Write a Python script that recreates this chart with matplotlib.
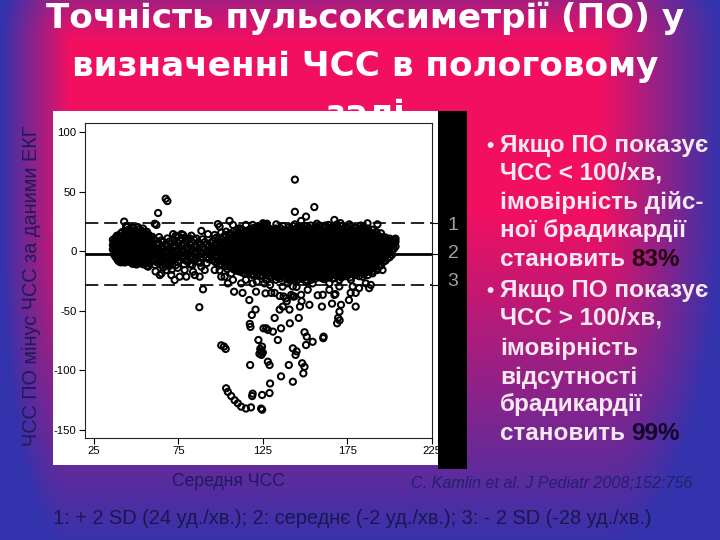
import numpy as np
import matplotlib
matplotlib.use('Agg')
import matplotlib.pyplot as plt
from matplotlib import font_manager
from matplotlib.patches import Rectangle

plt.rcParams['axes.unicode_minus'] = False

# Bland-Altman plot: mean HR (x) vs. pulse-ox HR minus ECG HR (y)
# dense band, kept column by column: x of a column and the y values in it
left_cols = [36.2, 37.8, 39.3, 40.9, 42.4, 44.0, 45.6, 47.1, 48.7, 50.2, 51.8, 53.3,
             54.9, 56.4, 58.0, 59.5]
left_rows = [
    [9.5, 5.2, 1.4],
    [11.3, 7.0, 2.8, -1.5, -4.8],
    [12.6, 8.1, 4.3, 0.2, -3.6, -7.9],
    [14.8, 10.2, 5.7, 1.6, -2.4, -6.1, -9.4],
    [11.7, 7.4, 3.1, -0.8, -4.9, -8.3],
    [16.3, 12.4, 8.6, 4.2, 0.5, -3.8, -7.2],
    [18.1, 13.5, 9.3, 5.4, 1.2, -2.9, -6.4],
    [17.2, 14.1, 10.4, 6.2, 2.3, -1.7, -5.5, -9.6],
    [19.3, 15.2, 11.1, 6.9, 3.0, -1.2, -4.1, -8.4],
    [16.6, 12.2, 8.3, 4.4, 0.3, -3.4, -7.3, -11.2],
    [18.4, 14.6, 10.3, 6.1, 2.1, -2.2, -6.3, -10.1],
    [17.1, 12.9, 9.2, 5.1, 1.3, -3.1, -8.2],
    [15.4, 11.3, 7.2, 3.3, -0.9, -5.2, -9.1],
    [16.2, 12.1, 8.0, 4.1, 0.1, -4.4, -7.6, -12.3],
    [10.4, 6.3, 2.2, -2.0, -6.2, -10.2],
    [12.1, 7.8, 3.9, -0.4, -3.3, -8.1],
]
left_cols_b = [37.0, 38.6, 40.1, 41.7, 43.2, 44.8, 46.3, 47.9, 49.4, 51.0, 52.5, 54.1,
               55.6, 57.2, 58.7]
left_rows_b = [
    [8.0, 4.0, 0.0, -3.0],
    [13.0, 9.2, 5.1, 1.0, -2.9, -6.2],
    [10.4, 6.4, 2.5, -1.6, -5.5, -8.8],
    [16.0, 12.8, 8.9, 4.7, 0.6, -3.5, -7.5],
    [14.2, 10.1, 6.0, 2.0, -2.1, -6.0, -9.5],
    [20.5, 15.1, 11.1, 7.0, 2.9, -1.1, -5.2, -8.7],
    [16.0, 12.0, 7.9, 3.8, -0.2, -4.3, -8.1],
    [20.0, 16.1, 12.6, 8.6, 4.6, 0.6, -3.2, -7.0, -10.6],
    [17.5, 13.4, 9.6, 5.6, 1.7, -2.4, -6.0, -10.0],
    [20.2, 14.4, 10.2, 6.3, 2.3, -1.4, -5.3, -9.1],
    [16.0, 11.9, 7.8, 3.7, -0.5, -4.6, -9.7],
    [19.0, 13.6, 9.4, 5.4, 1.2, -2.9, -7.1, -11.0],
    [13.9, 9.8, 5.9, 2.0, -2.2, -6.0, -10.5],
    [14.0, 10.0, 6.0, 1.9, -2.1, -5.8, -9.0],
    [11.0, 7.0, 3.0, -1.0, -5.0],
]
mid_cols = [61.2, 63.6, 66.1, 68.5, 71.0, 73.4, 75.9, 78.3, 80.8, 83.2, 85.7, 88.1,
            90.6, 93.0, 95.5, 97.9, 100.4, 102.8]
mid_rows = [
    [9.1, 2.8, -2.2, -7.1, -11.6],
    [11.8, 6.2, 0.9, -4.1, -9.3],
    [7.9, 2.1, -3.4, -8.2, -13.7],
    [10.7, 4.8, -0.3, -5.2, -10.4],
    [6.8, 1.1, -4.3, -9.0, -15.6],
    [12.9, 4.2, -1.1, -6.3, -11.8],
    [8.7, 2.9, -2.4, -7.7],
    [6.1, 0.4, -5.1, -10.9],
    [9.8, 2.3, -3.2, -8.6],
    [7.2, 1.2, -4.4, -11.5],
    [10.6, 4.1, -1.3, -6.2],
    [5.3, -0.2, -5.4, -9.7],
    [7.6, 1.9, -3.1],
    [4.4, -1.2, -6.8],
    [8.8, 3.2, -2.1, -7.6],
    [11.6, 5.1, 0.3, -4.8, -9.9],
    [9.7, 5.8, 1.7, -2.3, -6.1, -10.8],
    [13.6, 8.2, 4.1, 0.2, -3.9, -8.3, -12.7],
]
mid_cols_b = [62.4, 64.8, 67.3, 69.7, 72.2, 74.6, 77.1, 79.5, 82.0, 84.4, 86.9, 89.3,
              91.8, 94.2, 96.7, 99.1, 101.6, 104.0]
mid_rows_b = [
    [6.0, 0.5, -5.0, -9.5],
    [9.0, 3.5, -1.5, -6.5, -11.5],
    [5.5, 0.0, -5.5, -11.0],
    [8.0, 2.5, -2.5, -7.5, -12.5],
    [9.5, 3.5, -2.0, -7.0],
    [6.5, 1.0, -4.0, -9.0, -14.0],
    [11.0, 5.5, 0.0, -5.0],
    [8.5, 3.0, -2.5, -8.0],
    [5.0, -0.5, -6.0, -11.0],
    [9.5, 3.5, -2.0, -8.0],
    [7.5, 2.0, -3.5, -9.0],
    [10.0, 3.0, -2.0],
    [5.5, 0.0, -5.0, -10.0],
    [7.0, 1.5, -3.5],
    [10.5, 6.0, 0.5, -4.5, -9.0],
    [8.0, 3.0, -1.5, -7.0, -12.0],
    [12.0, 7.5, 3.5, -0.5, -4.5, -8.5],
    [10.0, 6.0, 2.0, -2.0, -6.0, -10.5, -15.0],
]
core_cols = [105.3, 107.9, 110.5, 113.1, 115.7, 118.3, 120.9, 123.5, 126.1, 128.7,
             131.3, 133.9, 136.5, 139.1, 141.7, 144.3, 146.9, 149.5, 152.1, 154.7,
             157.3, 159.9, 162.5, 165.1, 167.7, 170.3, 172.9, 175.5, 178.1, 180.7,
             183.3, 185.9, 188.5, 191.1, 193.7, 196.3, 198.9, 201.5, 203.6]
core_rows = [
    [-13.2, -9.1, -5.3, -1.2, 2.7, 6.9, 10.8, 14.6],
    [-15.4, -11.3, -7.2, -3.1, 0.8, 4.9, 8.7, 12.9, 16.8],
    [-16.8, -12.6, -8.4, -4.6, -0.7, 3.4, 7.6, 11.4, 15.7],
    [-18.1, -14.2, -10.1, -6.0, -2.2, 1.9, 5.8, 9.9, 13.8, 17.6],
    [-16.3, -12.0, -7.9, -3.8, 0.1, 4.2, 8.1, 12.2, 16.1],
    [-19.2, -15.1, -11.2, -7.0, -3.1, 1.0, 5.1, 9.0, 13.1, 17.2],
    [-17.4, -13.1, -9.2, -5.1, -1.0, 3.1, 7.0, 11.1, 15.0, 18.9],
    [-20.1, -16.0, -12.1, -8.1, -4.0, 0.2, 4.1, 8.0, 12.1, 16.2, 20.1],
    [-18.2, -14.1, -10.0, -6.1, -2.0, 1.9, 6.0, 10.1, 14.0, 18.1, 22.0],
    [-21.0, -16.9, -13.0, -8.9, -5.0, -1.1, 3.0, 7.1, 11.0, 14.9, 19.0],
    [-19.1, -15.0, -11.1, -7.0, -2.9, 1.1, 5.0, 8.9, 13.1, 17.0],
    [-22.0, -18.0, -13.9, -10.0, -5.9, -2.0, 2.1, 6.0, 9.9, 14.1, 17.9],
    [-20.2, -16.1, -12.0, -7.9, -4.1, 0.0, 4.0, 8.1, 12.0, 15.9],
    [-22.9, -18.8, -14.9, -11.0, -7.1, -3.0, 1.0, 5.1, 9.0, 12.9, 17.1],
    [-21.1, -17.0, -13.0, -9.1, -5.0, -1.0, 3.0, 6.9, 11.0, 15.1, 19.0],
    [-23.0, -19.1, -15.0, -11.1, -6.9, -3.1, 1.1, 5.0, 9.1, 13.0, 17.0],
    [-21.2, -17.1, -12.9, -9.0, -5.1, -0.9, 3.1, 7.0, 10.9, 15.0, 19.1],
    [-22.1, -18.0, -14.1, -10.0, -6.0, -2.1, 2.0, 6.1, 10.0, 13.9, 18.0],
    [-20.0, -16.1, -12.0, -8.1, -4.0, 0.1, 4.0, 8.0, 12.1, 16.0, 20.0],
    [-21.9, -18.0, -13.9, -10.1, -6.0, -1.9, 2.0, 6.1, 9.9, 14.0, 18.1],
    [-20.1, -15.9, -12.1, -8.0, -3.9, 0.0, 4.1, 8.0, 12.0, 15.9, 19.9],
    [-22.0, -18.1, -14.0, -10.0, -6.1, -2.0, 2.1, 6.0, 10.1, 14.0, 18.0],
    [-19.9, -16.0, -11.9, -8.1, -4.0, 0.1, 3.9, 8.1, 12.0, 16.1, 20.1],
    [-21.0, -17.0, -13.1, -9.0, -5.0, -0.9, 3.0, 7.0, 11.0, 15.0, 19.0],
    [-19.0, -15.1, -11.0, -7.0, -3.1, 1.0, 5.1, 9.0, 13.0, 17.1, 21.0],
    [-20.9, -16.9, -13.0, -9.0, -4.9, -1.0, 3.0, 7.1, 11.0, 14.9, 18.9],
    [-18.9, -15.0, -11.1, -7.0, -3.0, 1.1, 5.0, 8.9, 13.0, 17.0],
    [-20.1, -16.0, -12.0, -8.0, -4.1, 0.0, 4.0, 8.1, 12.0, 16.0, 19.9],
    [-18.0, -14.0, -10.1, -6.0, -2.0, 2.0, 6.0, 10.0, 14.1, 18.0],
    [-19.1, -15.0, -11.0, -7.1, -3.0, 1.0, 5.0, 9.1, 13.0, 17.1],
    [-17.0, -13.1, -9.0, -5.0, -1.1, 3.0, 7.0, 11.0, 15.0, 18.9],
    [-18.1, -14.0, -10.0, -6.1, -2.0, 2.0, 6.1, 10.0, 14.0, 17.9],
    [-16.0, -12.0, -8.1, -4.0, 0.0, 4.0, 8.0, 12.0, 16.1],
    [-14.1, -10.0, -6.0, -2.1, 1.9, 6.0, 10.0, 14.0],
    [-12.0, -8.0, -4.0, 0.0, 4.1, 8.0, 12.1],
    [-9.0, -5.0, -1.0, 3.0, 7.0, 11.0],
    [-6.0, -2.0, 2.0, 6.0, 9.5],
    [-3.0, 1.0, 5.0, 9.0],
    [4.0, 8.0, 10.5],
]
core_cols_b = [106.6, 109.2, 111.8, 114.4, 117.0, 119.6, 122.2, 124.8, 127.4, 130.0,
               132.6, 135.2, 137.8, 140.4, 143.0, 145.6, 148.2, 150.8, 153.4, 156.0,
               158.6, 161.2, 163.8, 166.4, 169.0, 171.6, 174.2, 176.8, 179.4, 182.0,
               184.6, 187.2, 189.8, 192.4, 195.0, 197.6, 200.2, 202.6]
core_rows_b = [
    [-14.0, -10.2, -6.1, -2.2, 1.8, 5.9, 9.8, 13.7],
    [-16.1, -12.0, -8.0, -4.1, -0.1, 4.0, 8.1, 12.0, 16.0],
    [-17.2, -13.3, -9.1, -5.2, -1.2, 2.8, 6.9, 10.8, 14.9, 18.1],
    [-19.0, -15.1, -11.0, -7.1, -3.0, 1.0, 5.0, 9.0, 12.9, 16.9],
    [-17.9, -13.9, -10.0, -5.9, -2.1, 2.1, 6.0, 10.0, 14.0, 18.0],
    [-20.0, -15.9, -12.1, -8.0, -4.1, 0.0, 4.0, 8.1, 12.0, 16.1, 19.6],
    [-18.9, -14.9, -11.0, -7.0, -3.0, 1.0, 5.1, 9.0, 13.0, 17.0, 21.0],
    [-21.0, -17.0, -13.9, -10.0, -6.0, -2.1, 2.0, 6.0, 10.0, 14.1, 18.0, 21.9],
    [-20.1, -16.0, -12.0, -8.0, -3.9, 0.0, 4.1, 8.0, 12.0, 16.0, 20.0, 23.0],
    [-22.0, -18.0, -13.9, -9.9, -6.0, -2.0, 2.1, 6.0, 10.0, 14.0, 18.0],
    [-21.0, -17.0, -13.0, -9.1, -5.0, -1.0, 3.0, 7.0, 11.0, 15.0, 19.0],
    [-23.0, -19.9, -16.0, -12.0, -8.0, -4.0, 0.0, 4.0, 8.0, 12.0, 16.0, 19.5],
    [-22.0, -18.0, -14.0, -10.0, -6.0, -2.0, 2.0, 6.0, 10.0, 14.0, 18.0],
    [-24.0, -20.0, -16.1, -12.0, -8.0, -4.0, 0.0, 4.0, 8.0, 12.0, 16.0, 20.0],
    [-23.0, -19.0, -15.0, -11.0, -7.0, -3.0, 1.0, 5.0, 9.0, 13.0, 17.0, 21.0],
    [-24.0, -20.0, -16.0, -12.0, -8.0, -4.0, 0.0, 4.0, 8.0, 12.0, 16.0, 20.0],
    [-23.0, -19.0, -15.0, -11.0, -7.0, -3.0, 1.0, 5.0, 9.0, 13.0, 17.0, 20.5],
    [-24.0, -20.0, -16.0, -12.0, -8.0, -4.0, 0.0, 4.0, 8.0, 12.0, 16.0, 21.0],
    [-22.0, -18.0, -14.0, -10.0, -6.0, -2.0, 2.0, 6.0, 10.0, 14.0, 18.0, 21.5],
    [-23.0, -19.9, -16.0, -12.0, -8.0, -4.0, 0.0, 4.0, 8.0, 12.0, 16.0, 20.0],
    [-22.0, -18.0, -14.0, -10.0, -6.0, -2.0, 2.0, 6.0, 10.0, 14.0, 18.0, 21.5],
    [-23.5, -20.0, -16.0, -12.0, -8.0, -4.0, 0.0, 4.0, 8.0, 12.0, 16.0, 20.0],
    [-22.0, -18.0, -14.0, -10.0, -6.0, -2.0, 2.0, 6.0, 10.0, 14.0, 18.0, 22.0],
    [-23.0, -19.0, -15.0, -11.0, -7.0, -3.0, 1.0, 5.0, 9.0, 13.0, 17.0, 21.0],
    [-21.0, -17.0, -13.0, -9.0, -5.0, -1.0, 3.0, 7.0, 11.0, 15.0, 19.0, 22.5],
    [-22.0, -18.0, -14.0, -10.0, -6.0, -2.0, 2.0, 6.0, 10.0, 14.0, 18.0, 21.0],
    [-21.0, -17.0, -13.0, -9.0, -5.0, -1.0, 3.0, 7.0, 11.0, 15.0, 19.0],
    [-22.0, -18.0, -14.0, -10.0, -6.0, -2.0, 2.0, 6.0, 10.0, 14.0, 18.0, 21.0],
    [-20.0, -16.0, -12.0, -8.0, -4.0, 0.0, 4.0, 8.0, 12.0, 16.0, 19.5],
    [-21.0, -17.0, -13.0, -9.0, -5.0, -1.0, 3.0, 7.0, 11.0, 15.0, 19.0],
    [-19.0, -15.0, -11.0, -7.0, -3.0, 1.0, 5.0, 9.0, 13.0, 17.0, 20.5],
    [-20.0, -16.0, -12.0, -8.0, -4.0, 0.0, 4.0, 8.0, 12.0, 16.0, 19.0],
    [-17.0, -13.0, -9.0, -5.0, -1.0, 3.0, 7.0, 11.0, 15.0, 18.0],
    [-15.0, -11.0, -7.0, -3.0, 1.0, 5.0, 9.0, 13.0, 16.0],
    [-12.0, -8.0, -4.0, 0.0, 4.0, 8.0, 12.0, 15.0],
    [-8.0, -4.0, 0.0, 4.0, 8.0, 11.5],
    [-5.0, -1.0, 3.0, 7.0, 10.5],
    [2.0, 6.0, 9.5],
]

# scattered points around the band (inside about +/-30)
scatter_pts = [
    (57.1, -13), (61.5, -17), (64, -20), (65, -18.6), (67.9, -15.8), (70.8, -20),
    (72.8, -24.2), (75.8, -21.4), (78.7, -15.8), (79.7, -21.4), (83.7, -17.2),
    (84.7, -20), (87.6, -21.4), (88.6, -13), (90.6, -15.8), (96.5, -15.8),
    (99.4, -16), (100.4, -21.4), (102.4, -21.4), (104.3, -27), (106.3, -18.6),
    (107.3, -24), (112.2, -27), (115, -24), (119, -20), (121.5, -25.6), (126, -27),
    (127, -24), (129.3, -28.4), (132.8, -24), (136.7, -29.7), (139.7, -27),
    (142.8, -29.6), (145.7, -24), (148.7, -21.4), (150.6, -25.6), (153.6, -24),
    (154.5, -27), (160.4, -22.7), (164.4, -27), (167.4, -22.6), (170.3, -24),
    (170.3, -29.6), (177.2, -24), (178.2, -29.6), (184, -21.4), (186, -27),
    (189, -28.3), (190, -18.6), (192.9, -15.8), (195.9, -15.8),
    (42.9, 24.8), (44, 20.6), (61, 23), (62, 22), (71.9, 14.3), (73.8, 12.2),
    (76.8, 14.3), (77.8, 13.6), (81.7, 10.8), (82.7, 13), (88.6, 17), (92.5, 14.3),
    (96.5, 13.6), (98.4, 22.7), (99.4, 20.6), (100.4, 15.6), (103.3, 16.4),
    (105.3, 25.4), (107.3, 22), (111.2, 19.2), (115, 22), (119, 22), (123, 20.6),
    (125.1, 23.4), (127, 22), (133, 22.5), (137, 21), (144, 22.5), (147.7, 25.4),
    (150.6, 29), (157, 23), (162, 21.5), (167.4, 26.2), (171, 23.5), (176.2, 22.5),
    (179.2, 19.8), (183, 21.5), (187, 23.4), (191.9, 15.6), (192.9, 22.5),
]

# points far from the band
outlier_pts = [
    (144, 60), (67.5, 44), (68.5, 42), (63, 32), (144, 33), (155.5, 37),
    (89.6, -32), (87.4, -47), (100.4, -79), (102, -80), (103, -82), (108, -34),
    (113, -35), (117, -41), (118.5, -53.5), (120.7, -49), (117.3, -61),
    (117.7, -63.5), (117.5, -95.5), (122.4, -74.5), (125.4, -64.7), (123.5, -82),
    (124, -84), (123, -86), (124.5, -80), (125, -85), (124.2, -87), (128, -92.7),
    (129, -95.5), (129.3, -111), (129, -119), (124.6, -120.6), (119, -119.5),
    (118.7, -121.5), (103.3, -115), (104.3, -118), (106.3, -121.5), (108.3, -125),
    (110.2, -127.6), (112.2, -130.4), (115, -132), (118, -131), (124, -132),
    (124.6, -133), (127, -64.7), (128, -66), (131, -67.5), (132, -56),
    (135.8, -64.7), (133.9, -74.5), (135, -49), (136.8, -46.5), (135.8, -105),
    (138.8, -39.5), (140.4, -95.5), (140.8, -49), (142.8, -109.5), (142.8, -81.5),
    (145, -84), (144.4, -87), (141, -60.5), (146.3, -56), (148.3, -94),
    (149, -102.5), (149.7, -97), (149.7, -68), (151, -71.7), (150.6, -78.7),
    (154.5, -76), (157.5, -37), (152.6, -45), (160.8, -73), (161, -71.7),
    (160, -46.5), (166, -44), (168, -36), (169, -60.5), (169.6, -56),
    (170.4, -50.7), (176, -41), (177, -35), (182, -31), (180, -46.5), (180, -35),
    (147, -46.5), (148, -42), (143.7, -38), (145, -30), (135, -37.6), (130, -35),
    (126.6, -35.4), (121, -34), (119, -27), (132, -35), (137.3, -38), (139.2, -42),
    (141.8, -36.7), (142.8, -38), (147.7, -36.6), (151.6, -32.4), (160.5, -36.6),
    (164.4, -32.4), (167.4, -36.7), (171.3, -45), (170.5, -58), (188, -31),
]

mean_diff = -2
upper_sd = 24
lower_sd = -28
x_ticks = [25, 75, 125, 175, 225]
y_ticks = [100, 50, 0, -50, -100, -150]

title_lines = ['Точність пульсоксиметрії (ПО) у', 'визначенні ЧСС в пологовому', 'залі']
bullet1 = ['Якщо ПО показує', 'ЧСС < 100/хв,', 'імовірність дійс-', 'ної брадикардії', 'становить']
bullet2 = ['Якщо ПО показує', 'ЧСС > 100/хв,', 'імовірність', 'відсутності', 'брадикардії', 'становить']
pct1, pct2 = '83%', '99%'
footer = '1: + 2 SD (24 уд./хв.); 2: середнє (-2 уд./хв.); 3: - 2 SD (-28 уд./хв.)'
citation = 'C. Kamlin et al. J Pediatr 2008;152:756'

# flatten the band columns
band_x, band_y = [], []
for cols, rows in [(left_cols, left_rows), (left_cols_b, left_rows_b),
                   (mid_cols, mid_rows), (mid_cols_b, mid_rows_b),
                   (core_cols, core_rows), (core_cols_b, core_rows_b)]:
    for cx, ys in zip(cols, rows):
        band_x += [cx] * len(ys)
        band_y += ys
sc_x, sc_y = zip(*scatter_pts)
out_x, out_y = zip(*outlier_pts)
all_x = band_x + list(sc_x) + list(out_x)
all_y = band_y + list(sc_y) + list(out_y)

names = {f.name for f in font_manager.fontManager.ttflist}
has_narrow = 'Liberation Sans Narrow' in names
narrow = 'Liberation Sans Narrow' if has_narrow else 'Liberation Sans'
k = 1.0 if has_narrow else 0.82


def px(x):
    return x / 720


def py(y):
    return 1 - y / 540


fig = plt.figure(figsize=(7.2, 5.4), dpi=100)

# slide background: pink centre fading to blue at the edges
bg = fig.add_axes([0, 0, 1, 1], zorder=-10)
yy, xx = np.mgrid[0:540, 0:720]
dl = np.clip((70 - xx) / 70, 0, None)
dr = np.clip((xx - 600) / 120, 0, None)
dt = np.clip((40 - yy) / 100, 0, None)
db = np.clip((yy - 210) / 340, 0, None)
t = np.clip(np.sqrt(dl**2 + dr**2 + dt**2 + db**2), 0, 1)[..., None]
pink = np.array([0.95, 0.06, 0.38])
blue = np.array([0.2, 0.2, 0.68])
bg.imshow(pink * (1 - t) + blue * t, extent=[0, 1, 0, 1], aspect='auto', origin='upper')
bg.set_xlim(0, 1)
bg.set_ylim(0, 1)
bg.axis('off')

for line, base in zip(title_lines, [28, 76, 124]):
    bg.text(px(365), py(base), line, ha='center', va='baseline', color='white',
            fontsize=24.7, fontweight='bold', family='DejaVu Sans')

txt_kw = dict(ha='left', va='baseline', color='#f8e8f2', fontsize=17.5,
              fontweight='bold', family='Liberation Sans')
for lines, bases, pct, pcol in [(bullet1, [152, 180, 209, 237, 266], pct1, '#24000e'),
                                (bullet2, [297, 325, 355, 384, 411, 440], pct2, '#150628')]:
    bg.text(px(490), py(bases[0]), '•', **{**txt_kw, 'ha': 'center', 'fontsize': 15})
    for line, base in zip(lines, bases):
        last = bg.text(px(500), py(base), line, **txt_kw)
    bg.annotate(pct, xy=(1, 0), xycoords=last, xytext=(4.5, 0), textcoords='offset points',
                ha='left', va='bottom', color=pcol, fontsize=17.5, fontweight='bold',
                family='Liberation Sans')

bg.text(px(31), py(286), 'ЧСС ПО мінус ЧСС за даними ЕКГ', rotation=90, ha='center',
        va='center', color='#1e1a55', fontsize=17.5 * k, family=narrow)
bg.text(px(228), py(481), 'Середня ЧСС', ha='center', va='center', color='#1e1a5e',
        fontsize=15.5 * k, family=narrow)
bg.text(px(411), py(483), citation, ha='left', va='center', color='#24206a',
        fontsize=11.6, style='italic', family='Liberation Sans')
bg.text(px(53), py(518), footer, ha='left', va='center', color='#181850',
        fontsize=17.6 * k, family=narrow)

# white picture of the plot and the black strip on its right
fig.add_artist(Rectangle((px(53), py(465)), px(438) - px(53), py(111) - py(465),
                         transform=fig.transFigure, facecolor='white', edgecolor='none',
                         zorder=-5))
fig.add_artist(Rectangle((px(438), py(469)), px(467) - px(438), py(111) - py(469),
                         transform=fig.transFigure, facecolor='black', edgecolor='none',
                         zorder=5))
for lab, yv in zip(['1', '2', '3'], [225, 253, 281]):
    fig.text(px(453), py(yv), lab, ha='center', va='center', color='#a0a0a0',
             fontsize=14, family='Liberation Sans', zorder=6)

ax = fig.add_axes([px(85), py(438), px(432) - px(85), py(123) - py(438)])
ax.set_facecolor('white')
ax.scatter(all_x, all_y, s=20, facecolors='none', edgecolors='black', linewidths=1.45,
           zorder=2)
ax.axhline(mean_diff, color='black', lw=2.0, zorder=3)
for yv in [upper_sd, lower_sd]:
    ax.axhline(yv, color='black', lw=1.2, dashes=(8, 3.5), zorder=3)
ax.set_xlim(19.7, 225.2)
ax.set_ylim(-156.7, 107.5)
ax.set_xticks(x_ticks)
ax.set_xticklabels([str(v) for v in x_ticks], family=narrow, fontsize=10 * k)
ax.set_yticks(y_ticks)
ax.set_yticklabels([str(v) for v in y_ticks], family=narrow, fontsize=10 * k)
ax.tick_params(direction='out', length=4, width=0.8, pad=2, colors='black')
for s in ax.spines.values():
    s.set_linewidth(0.8)
    s.set_color('#222222')

ax2 = ax.twinx()
ax2.set_ylim(ax.get_ylim())
ax2.set_yticks([upper_sd, mean_diff, lower_sd])
ax2.set_yticklabels([])
ax2.tick_params(direction='out', length=4, width=0.8)
for s in ax2.spines.values():
    s.set_visible(False)

fig.savefig('out.png', dpi=100)
